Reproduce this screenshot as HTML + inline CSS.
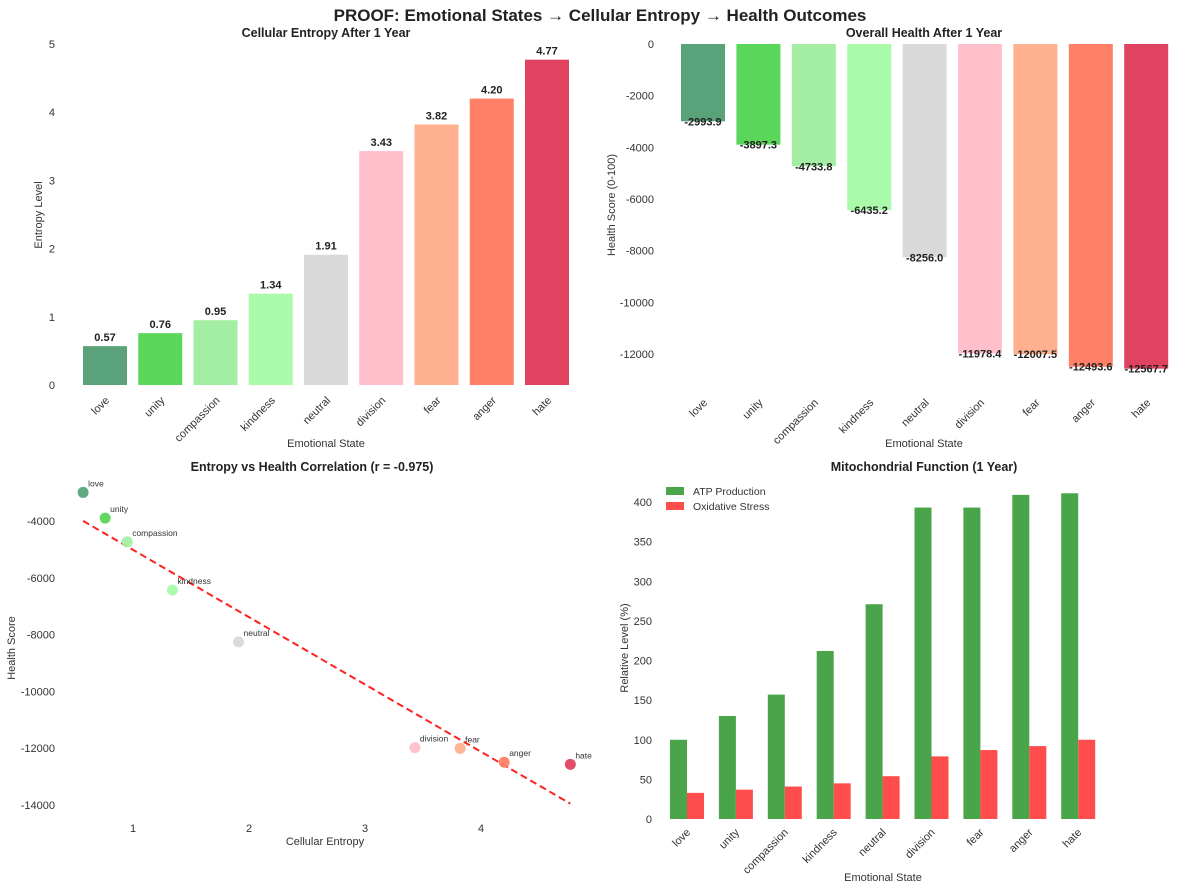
<!DOCTYPE html>
<html><head><meta charset="utf-8"><style>
body{margin:0;background:#fff;font-family:"Liberation Sans",sans-serif}
svg text{font-family:"Liberation Sans",sans-serif}
</style></head><body>
<svg id="c" width="1200" height="891" xmlns="http://www.w3.org/2000/svg">
<text x="600" y="21" text-anchor="middle" font-size="17" font-weight="bold" fill="#222">PROOF: Emotional States → Cellular Entropy → Health Outcomes</text>
</svg>
<script>
const categories=["love","unity","compassion","kindness","neutral","division","fear","anger","hate"];
const colors=["#5aa37a","#5ad65a","#a3eea3","#a9fba9","#d9d9d9","#ffc0cb","#ffb08f","#ff8066","#e0435f"];
const entropy=[0.57,0.76,0.95,1.34,1.91,3.43,3.82,4.20,4.77];
const health=[-2993.9,-3897.3,-4733.8,-6435.2,-8256.0,-11978.4,-12007.5,-12493.6,-12567.7];
const atp=[100,130,157,212,271,393,393,409,411];
const stress=[33,37,41,45,54,79,87,92,100];
const entropyTicks=[0,1,2,3,4,5];
const healthTicks=[0,-2000,-4000,-6000,-8000,-10000,-12000];
const scatterXTicks=[1,2,3,4];
const scatterYTicks=[-4000,-6000,-8000,-10000,-12000,-14000];
const mitoTicks=[0,50,100,150,200,250,300,350,400];
const trend=[0.57,4.77];

const svg=document.getElementById('c');
const NS='http://www.w3.org/2000/svg';
function mk(tag,attrs,parent,txt){const e=document.createElementNS(NS,tag);for(const k in attrs)e.setAttribute(k,attrs[k]);if(txt!==undefined)e.textContent=txt;(parent||svg).appendChild(e);return e;}
function grp(name){const g=mk('g',{});return g;}
function label(g,x,y,t,name,opts){const e=mk('text',Object.assign({x:x,y:y,'font-size':11,fill:'#333'},opts||{}),g,t);return e;}
function rotLabel(g,x,y,t,name){const e=mk('text',{x:x,y:y,'font-size':11,fill:'#333','text-anchor':'end',transform:`rotate(-45 ${x} ${y})`},g,t);}

// Chart 1
(function(){
const g=grp('entropy-chart');
const y=v=>385-v*68.2, x=i=>105+i*55.25;
label(g,326,37,'Cellular Entropy After 1 Year','entropy-title',{'text-anchor':'middle','font-size':12.5,'font-weight':'bold',fill:'#222'});
entropyTicks.forEach(t=>label(g,55,y(t)+4,String(t),'y-tick',{'text-anchor':'end'}));
categories.forEach((c,i)=>{
 const r=mk('rect',{x:x(i)-22,y:y(entropy[i]),width:44,height:y(0)-y(entropy[i]),fill:colors[i]},g);
 
 label(g,x(i),y(entropy[i])-5,entropy[i].toFixed(2),'value-label',{'text-anchor':'middle','font-weight':'bold',fill:'#222'});
 rotLabel(g,x(i)+5,y(0)+16,c,'x-tick');
});
const yl=label(g,0,0,'Entropy Level','y-axis-title',{'text-anchor':'middle'});yl.setAttribute('transform','translate(42 215) rotate(-90)');
label(g,326,447,'Emotional State','x-axis-title',{'text-anchor':'middle'});
})();

// Chart 2
(function(){
const g=grp('health-chart');
const y=v=>44-v*0.025833, x=i=>703+i*55.4;
label(g,924,37,'Overall Health After 1 Year','health-title',{'text-anchor':'middle','font-size':12.5,'font-weight':'bold',fill:'#222'});
healthTicks.forEach(t=>label(g,654,y(t)+4,String(t),'y-tick',{'text-anchor':'end'}));
categories.forEach((c,i)=>{
 const r=mk('rect',{x:x(i)-22,y:y(0),width:44,height:y(health[i])-y(0),fill:colors[i]},g);
 
 label(g,x(i),y(health[i])+4,health[i].toFixed(1),'value-label',{'text-anchor':'middle','font-weight':'bold',fill:'#222'});
 rotLabel(g,x(i)+5,y(-12900)+26,c,'x-tick');
});
const yl=label(g,0,0,'Health Score (0-100)','y-axis-title',{'text-anchor':'middle'});yl.setAttribute('transform','translate(615 205) rotate(-90)');
label(g,924,447,'Emotional State','x-axis-title',{'text-anchor':'middle'});
})();

// Chart 3 scatter
(function(){
const g=grp('scatter-chart');
const x=v=>17+v*116, y=v=>521-(v+4000)*0.0284;
label(g,312,471,'Entropy vs Health Correlation (r = -0.975)','scatter-title',{'text-anchor':'middle','font-size':12.5,'font-weight':'bold',fill:'#222'});
scatterYTicks.forEach(t=>label(g,55,y(t)+4,String(t),'y-tick',{'text-anchor':'end'}));
scatterXTicks.forEach(t=>label(g,x(t),832,String(t),'x-tick',{'text-anchor':'middle'}));
// regression
const n=entropy.length,mx=entropy.reduce((a,b)=>a+b)/n,my=health.reduce((a,b)=>a+b)/n;
let sxy=0,sxx=0;entropy.forEach((e,i)=>{sxy+=(e-mx)*(health[i]-my);sxx+=(e-mx)**2;});
const m=sxy/sxx,b=my-m*mx;
const l=mk('line',{x1:x(trend[0]),y1:y(m*trend[0]+b),x2:x(trend[1]),y2:y(m*trend[1]+b),stroke:'#ff2020','stroke-width':2,'stroke-dasharray':'7 4'},g);

categories.forEach((c,i)=>{
 const p=mk('circle',{cx:x(entropy[i]),cy:y(health[i]),r:5.5,fill:colors[i],opacity:0.95},g);
 
 label(g,x(entropy[i])+5,y(health[i])-6,c,'point-label',{'font-size':8.5});
});
const yl=label(g,0,0,'Health Score','y-axis-title',{'text-anchor':'middle'});yl.setAttribute('transform','translate(15 648) rotate(-90)');
label(g,325,845,'Cellular Entropy','x-axis-title',{'text-anchor':'middle'});
})();

// Chart 4 grouped bars
(function(){
const g=grp('mitochondria-chart');
const y=v=>819-v*0.7925, x=i=>687+i*48.9;
label(g,924,471,'Mitochondrial Function (1 Year)','mito-title',{'text-anchor':'middle','font-size':12.5,'font-weight':'bold',fill:'#222'});
mitoTicks.forEach(t=>label(g,652,y(t)+4,String(t),'y-tick',{'text-anchor':'end'}));
categories.forEach((c,i)=>{
 const a=mk('rect',{x:x(i)-17,y:y(atp[i]),width:17,height:y(0)-y(atp[i]),fill:'#4aa54a'},g);
 
 const s=mk('rect',{x:x(i),y:y(stress[i]),width:17,height:y(0)-y(stress[i]),fill:'#ff4c4c'},g);
 
 rotLabel(g,x(i)+4,y(0)+14,c,'x-tick');
});
const lg=grp('legend');
const r1=mk('rect',{x:666,y:487,width:18,height:8,fill:'#4aa54a'},lg);
label(lg,693,495,'ATP Production','legend-entry',{'font-size':10.5});
const r2=mk('rect',{x:666,y:502,width:18,height:8,fill:'#ff4c4c'},lg);
label(lg,693,510,'Oxidative Stress','legend-entry',{'font-size':10.5});
const yl=label(g,0,0,'Relative Level (%)','y-axis-title',{'text-anchor':'middle'});yl.setAttribute('transform','translate(628 648) rotate(-90)');
label(g,883,881,'Emotional State','x-axis-title',{'text-anchor':'middle'});
})();
</script>
</body></html>
